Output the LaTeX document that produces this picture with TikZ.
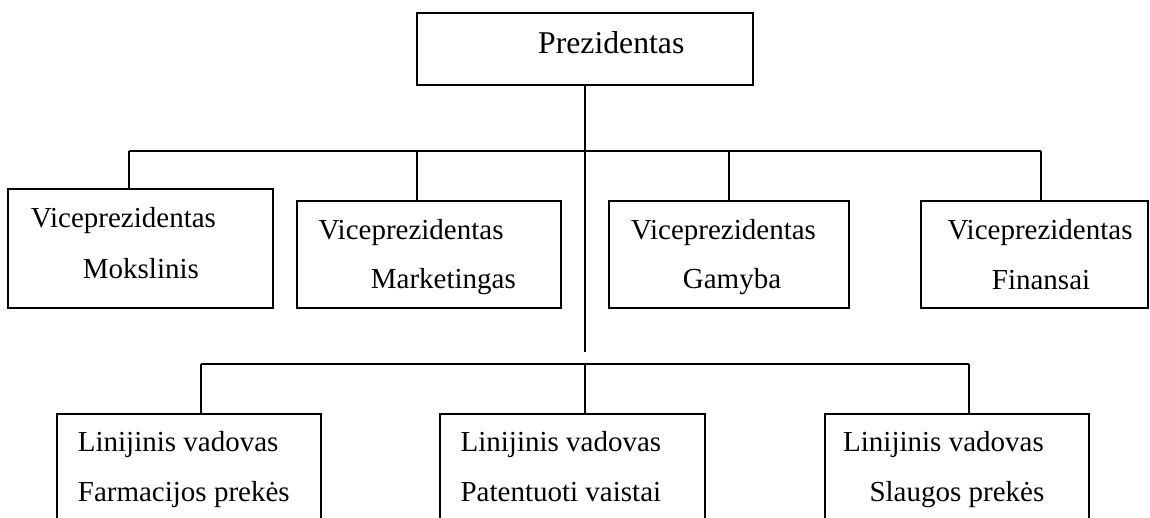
\documentclass[tikz,border=0pt]{standalone}
\usepackage{fontspec}
\setmainfont{Liberation Serif}
\begin{document}
\begin{tikzpicture}[x=1pt,y=-1pt,
  box/.style={draw, line width=2pt, inner sep=0pt, fill=none},
  txt/.style={anchor=base west, inner sep=0pt, font=\fontsize{29}{34}\selectfont},
  bigtxt/.style={anchor=base west, inner sep=0pt, font=\fontsize{31.7}{38}\selectfont},
  link/.style={line width=1.6pt}]
\useasboundingbox (0,0) rectangle (1150,518);
\clip (0,0) rectangle (1150,518);
\fill[white] (0,0) rectangle (1150,518);

% president
\node[box, minimum width=336pt, minimum height=72pt] (pres) at (584.7,49.3) {};
\node[bigtxt] (prest) at (538,53.3) {Prezidentas};

% vice presidents
\node[box, minimum width=265pt, minimum height=119.3pt] (vp1) at (140.8,248.7) {};
\node[box, minimum width=264.3pt, minimum height=107pt] (vp2) at (428.9,254.8) {};
\node[box, minimum width=240pt, minimum height=107pt] (vp3) at (728.7,254.8) {};
\node[box, minimum width=227.3pt, minimum height=107pt] (vp4) at (1034.4,254.8) {};

\node[txt] (vp1a) at (30.7,227.3) {Viceprezidentas};
\node[txt] (vp1b) at (82.7,278.3) {Mokslinis};
\node[txt] (vp2a) at (318.3,239.3) {Viceprezidentas};
\node[txt] (vp2b) at (370.7,288.3) {Marketingas};
\node[txt] (vp3a) at (630.7,239.3) {Viceprezidentas};
\node[txt] (vp3b) at (682.7,289) {Gamyba};
\node[txt] (vp4a) at (947.3,239.3) {Viceprezidentas};
\node[txt] (vp4b) at (991.7,289.3) {Finansai};

% line managers (boxes run past the lower edge)
\node[box, minimum width=263.7pt, minimum height=146.5pt] (lm1) at (188.9,486.75) {};
\node[box, minimum width=264.7pt, minimum height=146.5pt] (lm2) at (572.4,486.75) {};
\node[box, minimum width=263.7pt, minimum height=146.5pt] (lm3) at (956.9,486.75) {};

\node[txt] (lm1a) at (77.7,451.7) {Linijinis vadovas};
\node[txt] (lm1b) at (77.7,501) {Farmacijos prekės};
\node[txt] (lm2a) at (460.4,451.7) {Linijinis vadovas};
\node[txt] (lm2b) at (460.4,501) {Patentuoti vaistai};
\node[txt] (lm3a) at (843,451.7) {Linijinis vadovas};
\node[txt] (lm3b) at (869.3,501) {Slaugos prekės};

% connector points
\coordinate (t1) at (128.7,151);
\coordinate (t2) at (416.7,151);
\coordinate (t3) at (728.7,151);
\coordinate (t4) at (1041,151);
\coordinate (stemend) at (584.7,352);
\coordinate (b1) at (200.7,364);
\coordinate (b2) at (584.7,364);
\coordinate (b3) at (969,364);

% connectors
\draw[link] (pres.south) -- (stemend);
\draw[link] (t1) -- (t4);
\draw[link] (t1) -- (t1 |- vp1.north);
\draw[link] (t2) -- (t2 |- vp2.north);
\draw[link] (t3) -- (t3 |- vp3.north);
\draw[link] (t4) -- (t4 |- vp4.north);
\draw[link] (b1) -- (b3);
\draw[link] (b1) -- (b1 |- lm1.north);
\draw[link] (b2) -- (b2 |- lm2.north);
\draw[link] (b3) -- (b3 |- lm3.north);
\end{tikzpicture}
\end{document}
